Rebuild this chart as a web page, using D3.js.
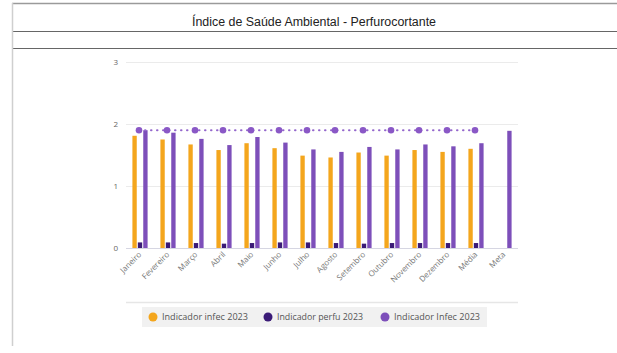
<!DOCTYPE html>
<html>
<head>
<meta charset="utf-8">
<script src="https://cdn.jsdelivr.net/npm/d3@7/dist/d3.min.js"></script>
<style>
  html, body { margin: 0; padding: 0; background: #fff; }
  svg { display: block; }
</style>
</head>
<body>
<svg id="chart" width="617" height="353"></svg>
<script>
// Monthly categories plus the yearly average and the target
const categories = ["Janeiro", "Fevereiro", "Março", "Abril", "Maio", "Junho", "Julho",
  "Agosto", "Setembro", "Outubro", "Novembro", "Dezembro", "Média", "Meta"];

// Bar series (null = no bar for that category)
const infec2023 = [1.81, 1.75, 1.67, 1.58, 1.69, 1.61, 1.49, 1.46, 1.54, 1.49, 1.58, 1.55, 1.60, null];
const perfu2023 = [0.09, 0.09, 0.08, 0.07, 0.08, 0.09, 0.09, 0.08, 0.07, 0.08, 0.08, 0.08, 0.08, null];
const infecB2023 = [1.90, 1.86, 1.76, 1.66, 1.79, 1.70, 1.59, 1.55, 1.63, 1.59, 1.67, 1.64, 1.69, 1.89];

// Dotted reference line (Janeiro to Média)
const lineValues = [1.90, 1.90, 1.90, 1.90, 1.90, 1.90, 1.90, 1.90, 1.90, 1.90, 1.90, 1.90, 1.90, null];

const yTicks = [0, 1, 2, 3];
const seriesNames = ["Indicador infec 2023", "Indicador perfu 2023", "Indicador Infec 2023"];
const seriesColors = ["#f4a61d", "#3b1b77", "#7d4fba"];

const svg = d3.select("#chart");

// Page frame: title row and a separator row
const frame = svg.append("g");
frame.append("line").attr("x1", 12).attr("x2", 617).attr("y1", 3.5).attr("y2", 3.5)
  .attr("stroke", "#9a9a9a").attr("stroke-width", 1.5);
frame.append("line").attr("x1", 12).attr("x2", 617).attr("y1", 31.5).attr("y2", 31.5)
  .attr("stroke", "#666").attr("stroke-width", 1.2);
frame.append("line").attr("x1", 12).attr("x2", 617).attr("y1", 48.5).attr("y2", 48.5)
  .attr("stroke", "#666").attr("stroke-width", 1.2);
frame.append("line").attr("x1", 12.5).attr("x2", 12.5).attr("y1", 3).attr("y2", 346)
  .attr("stroke", "#cfcfcf").attr("stroke-width", 1.5);

svg.append("text")
  .attr("x", 314).attr("y", 26)
  .attr("text-anchor", "middle")
  .attr("font-family", "Liberation Sans, Arial, sans-serif")
  .attr("font-size", 12)
  .attr("fill", "#222")
  .attr("textLength", 244)
  .attr("lengthAdjust", "spacingAndGlyphs")
  .text("Índice de Saúde Ambiental - Perfurocortante");

// Scales
const x0 = d3.scaleBand().domain(categories).range([126, 518]).paddingInner(0.38).paddingOuter(0.19);
const x1 = d3.scaleBand().domain([0, 1, 2]).range([0, x0.bandwidth()]).padding(0.2);
const y = d3.scaleLinear().domain([0, 3]).range([248, 62]);

// Gridlines
svg.append("g").selectAll("line").data(yTicks).join("line")
  .attr("x1", 126).attr("x2", 518)
  .attr("y1", d => y(d) + 0.5).attr("y2", d => y(d) + 0.5)
  .attr("stroke", d => d === 0 ? "#d6d6e2" : "#ebebeb").attr("stroke-width", 1);

// Y axis labels
const yAxis = svg.append("g").attr("transform", "translate(118,0)")
  .call(d3.axisLeft(y).tickValues(yTicks).tickSize(0).tickPadding(0).tickFormat(d3.format("d")));
yAxis.select(".domain").remove();
yAxis.selectAll("text").attr("font-family", "Open Sans, sans-serif").attr("font-size", 8).attr("fill", "#666");

// X axis labels, rotated
const xAxis = svg.append("g").attr("transform", "translate(0,250)")
  .call(d3.axisBottom(x0).tickSize(0).tickPadding(0));
xAxis.select(".domain").remove();
xAxis.selectAll("text")
  .attr("font-family", "Open Sans, sans-serif").attr("font-size", 8).attr("fill", "#777")
  .attr("text-anchor", "end")
  .attr("dy", 0)
  .attr("transform", "translate(2,5) rotate(-45)");

// Bars
const allSeries = [infec2023, perfu2023, infecB2023];
const groups = svg.append("g").selectAll("g").data(categories).join("g")
  .attr("transform", d => `translate(${x0(d)},0)`);
groups.selectAll("rect")
  .data((d, i) => allSeries.map((s, k) => ({ k, v: s[i] })).filter(e => e.v != null))
  .join("rect")
  .attr("x", e => x1(e.k))
  .attr("width", x1.bandwidth())
  .attr("y", e => y(e.v))
  .attr("height", e => y(0) - y(e.v))
  .attr("fill", e => seriesColors[e.k]);

// Dotted line with markers
const linePts = categories.map((c, i) => ({ c, v: lineValues[i] })).filter(p => p.v != null);
const line = d3.line().x(p => x0(p.c) + x0.bandwidth() / 2 - 1).y(p => y(p.v));
svg.append("path").datum(linePts)
  .attr("d", line)
  .attr("fill", "none")
  .attr("stroke", "#9467cc")
  .attr("stroke-width", 2)
  .attr("stroke-linecap", "round")
  .attr("stroke-dasharray", "0.5,5.5");
svg.append("g").selectAll("circle").data(linePts).join("circle")
  .attr("cx", p => x0(p.c) + x0.bandwidth() / 2 - 1)
  .attr("cy", p => y(p.v))
  .attr("r", 3.3)
  .attr("fill", "#8a58c6");

// Separator above legend
svg.append("line").attr("x1", 126).attr("x2", 518).attr("y1", 302.5).attr("y2", 302.5)
  .attr("stroke", "#e6e6e6").attr("stroke-width", 1.5);

// Legend
const legend = svg.append("g");
legend.append("rect").attr("x", 142).attr("y", 307).attr("width", 345).attr("height", 20)
  .attr("fill", "#f1f1f1");
const legendX = [153, 268, 385];
const items = legend.selectAll("g").data(seriesNames).join("g")
  .attr("transform", (d, i) => `translate(${legendX[i]},317)`);
items.append("circle").attr("r", 4.5).attr("fill", (d, i) => seriesColors[i] === "#7d4fba" ? "#7d4fba" : seriesColors[i]);
items.append("text")
  .attr("x", 9).attr("dy", "0.35em")
  .attr("font-family", "Open Sans, sans-serif").attr("font-size", 9.5).attr("fill", "#555")
  .attr("textLength", 86).attr("lengthAdjust", "spacingAndGlyphs")
  .text(d => d);
</script>
</body>
</html>
